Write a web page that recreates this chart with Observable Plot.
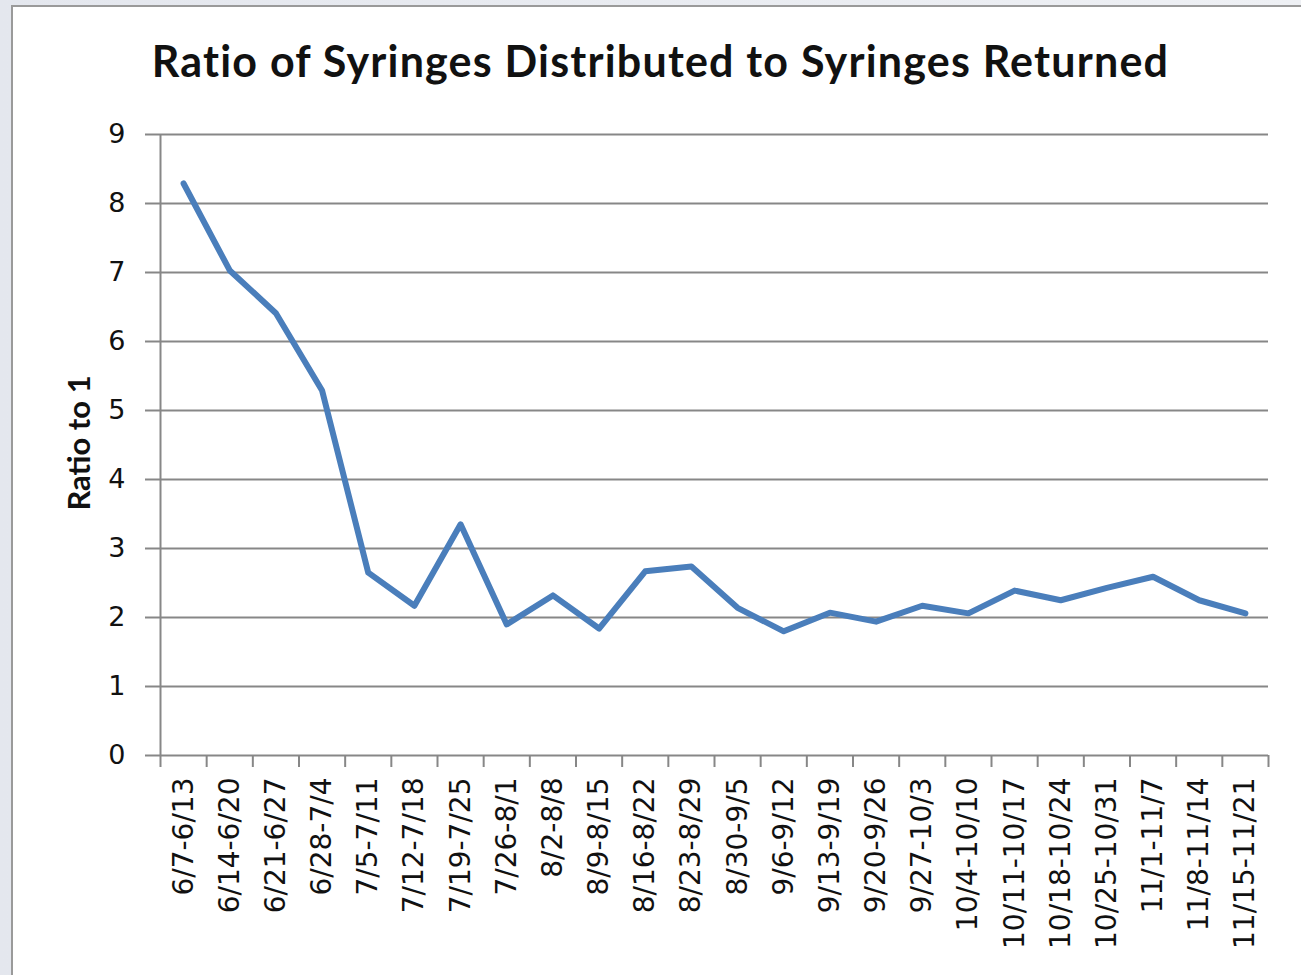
<!DOCTYPE html>
<html>
<head>
<meta charset="utf-8">
<script src="https://cdn.jsdelivr.net/npm/d3@7"></script>
<script src="https://cdn.jsdelivr.net/npm/@observablehq/plot@0.6"></script>
<style>
  html, body { margin: 0; padding: 0; }
  body { width: 1301px; height: 975px; overflow: hidden; background: linear-gradient(90deg, #e4e7ee, #eef0f4); position: relative; }
  #frame { position: absolute; left: 11px; top: 5px; width: 1300px; height: 980px; background: #fff; border: 2px solid #9a9a9a; box-sizing: border-box; }
  #title { position: absolute; left: 0; width: 1321px; top: 35px; text-align: center; font-family: Lato, sans-serif; font-weight: 700; font-size: 43px; letter-spacing: 1.2px; color: #111; white-space: nowrap; }
  #ylabel { position: absolute; left: 78px; top: 443px; transform: translate(-50%, -50%) rotate(-90deg); font-family: Lato, sans-serif; font-weight: 700; font-size: 31px; color: #111; white-space: nowrap; }
  #chart { position: absolute; left: 0; top: 0; }
</style>
</head>
<body>
<div id="frame"></div>
<div id="title">Ratio of Syringes Distributed to Syringes Returned</div>
<div id="ylabel">Ratio to 1</div>
<div id="chart"></div>
<script>
const categories = ["6/7-6/13","6/14-6/20","6/21-6/27","6/28-7/4","7/5-7/11","7/12-7/18","7/19-7/25","7/26-8/1","8/2-8/8","8/9-8/15","8/16-8/22","8/23-8/29","8/30-9/5","9/6-9/12","9/13-9/19","9/20-9/26","9/27-10/3","10/4-10/10","10/11-10/17","10/18-10/24","10/25-10/31","11/1-11/7","11/8-11/14","11/15-11/21"];
const ratios = [8.29, 7.03, 6.41, 5.29, 2.65, 2.17, 3.35, 1.90, 2.32, 1.84, 2.67, 2.74, 2.14, 1.80, 2.07, 1.94, 2.17, 2.06, 2.39, 2.25, 2.43, 2.59, 2.25, 2.06];
const yTicks = [0, 1, 2, 3, 4, 5, 6, 7, 8, 9];

const data = categories.map((c, i) => ({i, cat: c, v: ratios[i]}));
const centers = categories.map((c, i) => i);
const boundaries = categories.map((c, i) => i - 0.5).concat([categories.length - 0.5]);
const gridColor = "#878787";

const chart = Plot.plot({
  width: 1301,
  height: 975,
  marginLeft: 160,
  marginRight: 33,
  marginTop: 134,
  marginBottom: 220,
  style: {fontFamily: "DejaVu Sans", fontSize: "28px", color: "#111", background: "transparent", overflow: "visible"},
  x: {type: "linear", domain: [-0.5, categories.length - 0.5], axis: null},
  y: {domain: [0, 9], axis: null},
  marks: [
    Plot.ruleY(yTicks, {stroke: gridColor, strokeWidth: 2, strokeOpacity: 1}),
    Plot.ruleX([-0.5], {y1: 0, y2: 9, stroke: gridColor, strokeWidth: 2, strokeOpacity: 1}),
    Plot.axisY({ticks: yTicks, label: null, tickSize: 15, tickPadding: 20, fontSize: 27, stroke: gridColor, strokeWidth: 2, strokeOpacity: 1, tickFormat: d => String(d)}),
    Plot.axisX(boundaries, {label: null, tickSize: 12, tickFormat: () => "", stroke: gridColor, strokeWidth: 2, strokeOpacity: 1}),
    Plot.axisX(centers, {label: null, tickSize: 0, tickPadding: 22, tickRotate: -90, fontSize: 28, tickFormat: i => categories[i]}),
    Plot.line(data, {x: "i", y: "v", stroke: "#4a7ebb", strokeWidth: 6, strokeLinecap: "round", strokeLinejoin: "round"})
  ]
});
document.getElementById("chart").appendChild(chart);
</script>
</body>
</html>
